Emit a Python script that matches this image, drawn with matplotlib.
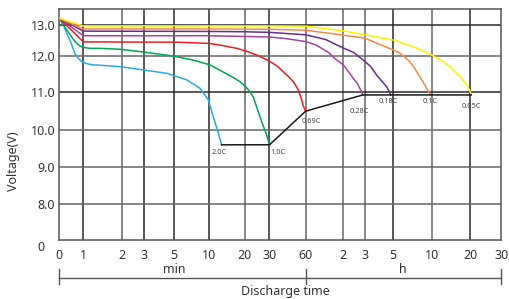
import numpy as np
import matplotlib
matplotlib.use('agg')
import matplotlib.pyplot as plt

plt.rcParams['font.family'] = ['Noto Sans', 'DejaVu Sans']

# discharge curves: time in minutes, voltage in V
blue_t = [0, 0.15, 0.31, 0.49, 0.65, 0.8, 0.93, 1.07, 1.22, 1.43, 1.95, 2.98, 4.5, 6.76, 8.65,
          9.83, 11.07, 12.5, 13.4]
blue_v = [13.21, 13.03, 12.73, 12.41, 12.08, 11.92, 11.84, 11.79, 11.75, 11.74, 11.70, 11.61,
          11.52, 11.34, 11.11, 10.80, 10.35, 9.91, 9.6]

green_t = [0, 0.15, 0.31, 0.49, 0.65, 0.8, 0.93, 1.06, 1.17, 1.43, 1.95, 2.98, 4.93, 7.7, 10.1,
           12.4, 14.9, 16.6, 18.6, 20.0, 22.0, 23.4, 25.0, 26.8, 28.6, 30]
green_v = [13.21, 13.03, 12.84, 12.64, 12.46, 12.35, 12.29, 12.26, 12.24, 12.24, 12.21, 12.12,
           11.99, 11.88, 11.75, 11.63, 11.50, 11.41, 11.29, 11.17, 11.02, 10.87, 10.56, 10.22,
           9.91, 9.6]

red_t = [0, 1, 5.3, 10.0, 13.7, 17.7, 20.8, 24.8, 27.3, 30.4, 36.2, 41.4, 45.7, 49.7, 51.9,
         53.9, 55.2, 56.7, 57.7, 60]
red_v = [13.21, 12.45, 12.44, 12.40, 12.33, 12.24, 12.14, 12.02, 11.94, 11.84, 11.72, 11.56,
         11.43, 11.29, 11.18, 11.06, 10.94, 10.80, 10.66, 10.5]

magenta_t = [0, 1, 10, 30, 45, 60, 76.5, 96, 106.7, 120, 136, 147.5, 158, 166, 170.5, 174]
magenta_v = [13.21, 12.65, 12.65, 12.61, 12.55, 12.46, 12.35, 12.11, 11.92, 11.75, 11.54,
             11.38, 11.26, 11.10, 11.02, 10.93]

purple_t = [0, 1, 10, 20, 30, 60, 91.5, 120, 149.5, 175, 203.8, 231, 253.6, 274, 284, 291]
purple_v = [13.21, 12.80, 12.79, 12.78, 12.76, 12.68, 12.53, 12.25, 12.10, 11.88, 11.71,
            11.47, 11.30, 11.15, 11.03, 10.93]

orange_t = [0, 1, 10, 30, 60, 120, 180, 240, 305, 329, 356, 394, 433, 471, 510, 549, 590]
orange_v = [13.21, 12.87, 12.87, 12.86, 12.83, 12.67, 12.57, 12.38, 12.19, 12.14, 12.08,
            11.96, 11.83, 11.64, 11.42, 11.19, 10.93]

yellow_t = [0, 1, 10, 30, 60, 120, 180, 305, 356, 473, 600, 744, 883, 968, 1064, 1146, 1215]
yellow_v = [13.21, 12.97, 12.97, 12.97, 12.96, 12.81, 12.68, 12.51, 12.44, 12.27, 12.02,
            11.88, 11.70, 11.55, 11.38, 11.20, 10.95]

cut_t = [13.4, 30, 60, 174, 1215]
cut_v = [9.6, 9.6, 10.5, 10.93, 10.93]

rate_labels = ['2.0C', '1.0C', '0.69C', '0.28C', '0.18C', '0.1C', '0.05C']

x_ticks = [0, 1, 2, 3, 5, 10, 20, 30, 60, 120, 180, 300, 600, 1200, 1800]
x_ticklabels = ['0', '1', '2', '3', '5', '10', '20', '30', '60', '2', '3', '5', '10', '20', '30']
y_ticks = [8, 9, 10, 11, 12, 13]
y_ticklabels = ['8.0', '9.0', '10.0', '11.0', '12.0', '13.0']

# hand drawn axis: pixel spacing of the original grid
x_pos = [0, 24, 62.7, 84.4, 115, 150.2, 185.7, 210.2, 246.4, 284, 305.7, 333.4, 372.4, 411.2, 441.9]
y_val = [0, 8, 9, 10, 11, 12, 13, 13.5]
y_pos = [0, 36.3, 73, 110, 147.7, 184.3, 215, 231]

def xf(t):
    return np.interp(t, x_ticks, x_pos)

def xi(p):
    return np.interp(p, x_pos, x_ticks)

def yf(v):
    return np.interp(v, y_val, y_pos)

def yi(p):
    return np.interp(p, y_pos, y_val)

fig = plt.figure(figsize=(5.09, 2.99), dpi=100)
ax = fig.add_axes([59.3 / 509, 1 - 240 / 299, 441.9 / 509, 231 / 299])
ax.set_xscale('function', functions=(xf, xi))
ax.set_yscale('function', functions=(yf, yi))
ax.set_xlim(0, 1800)
ax.set_ylim(0, 13.5)

dark = '#2a2a2a'
grey = '#666666'
vshade = [grey, dark, grey, dark, dark, dark, grey, dark, grey, grey, grey, dark, grey, dark, grey]
for t, c in zip(x_ticks[1:-1], vshade[1:-1]):
    ax.axvline(t, color=c, lw=1.1, zorder=1)
hshade = [grey, grey, grey, dark, grey, dark]
for v, c in zip(y_ticks, hshade):
    ax.axhline(v, color=c, lw=1.1, zorder=1)

curves = [
    (blue_t, blue_v, '#29abe2'),
    (green_t, green_v, '#00a651'),
    (red_t, red_v, '#ed1c24'),
    (magenta_t, magenta_v, '#a3449c'),
    (purple_t, purple_v, '#662d91'),
    (orange_t, orange_v, '#f7894a'),
    (yellow_t, yellow_v, '#fff200'),
]
for t, v, c in curves:
    ax.plot(t, v, color=c, lw=1.1, zorder=3, solid_joinstyle='round')

ax.plot(cut_t, cut_v, color='#1a1a1a', lw=1.1, zorder=4)

# labels at the end of each curve
offsets = [(-2, -8), (8, -8), (6, -10), (-4, -17), (-2, -7), (0, -7), (0, -12)]
for (t, v, c), lab, off in zip(curves, rate_labels, offsets):
    ax.annotate(lab, (t[-1], v[-1]), xytext=off, textcoords='offset pixels',
                ha='center', va='center', fontsize=5.3, color='#444444')

for s in ax.spines.values():
    s.set_color('#555555')
    s.set_linewidth(1.1)

ax.set_xticks(x_ticks)
ax.set_xticklabels(x_ticklabels)
ax.set_yticks(y_ticks)
ax.set_yticklabels(y_ticklabels)
ax.tick_params(length=0, labelsize=9, labelcolor='#333333')
ax.tick_params(axis='x', pad=6.5)
ax.tick_params(axis='y', pad=3)
ax.minorticks_off()

fig.text(45 / 509, 1 - 247.5 / 299, '0', ha='right', va='center', fontsize=9, color='#333333')

# min / h bracket under the axis
tr = ax.get_xaxis_transform()
ax.plot([0, 1800], [-0.163, -0.163], color='#555555', lw=1.0, transform=tr, clip_on=False)
for t in [0, 60, 1800]:
    ax.plot([t, t], [-0.125, -0.19], color='#555555', lw=1.0, transform=tr, clip_on=False)
ax.text(5, -0.127, 'min', transform=tr, ha='center', va='center', fontsize=9, color='#333333')
ax.text(380, -0.127, 'h', transform=tr, ha='center', va='center', fontsize=9, color='#333333')
ax.text(0.512, -0.221, 'Discharge time', transform=ax.transAxes, ha='center', va='center',
        fontsize=9, color='#333333')
fig.text(14 / 509, 1 - 161.5 / 299, 'Voltage(V)', rotation=90, ha='center', va='center',
         fontsize=9, color='#333333')

fig.savefig('out.png', dpi=100)
